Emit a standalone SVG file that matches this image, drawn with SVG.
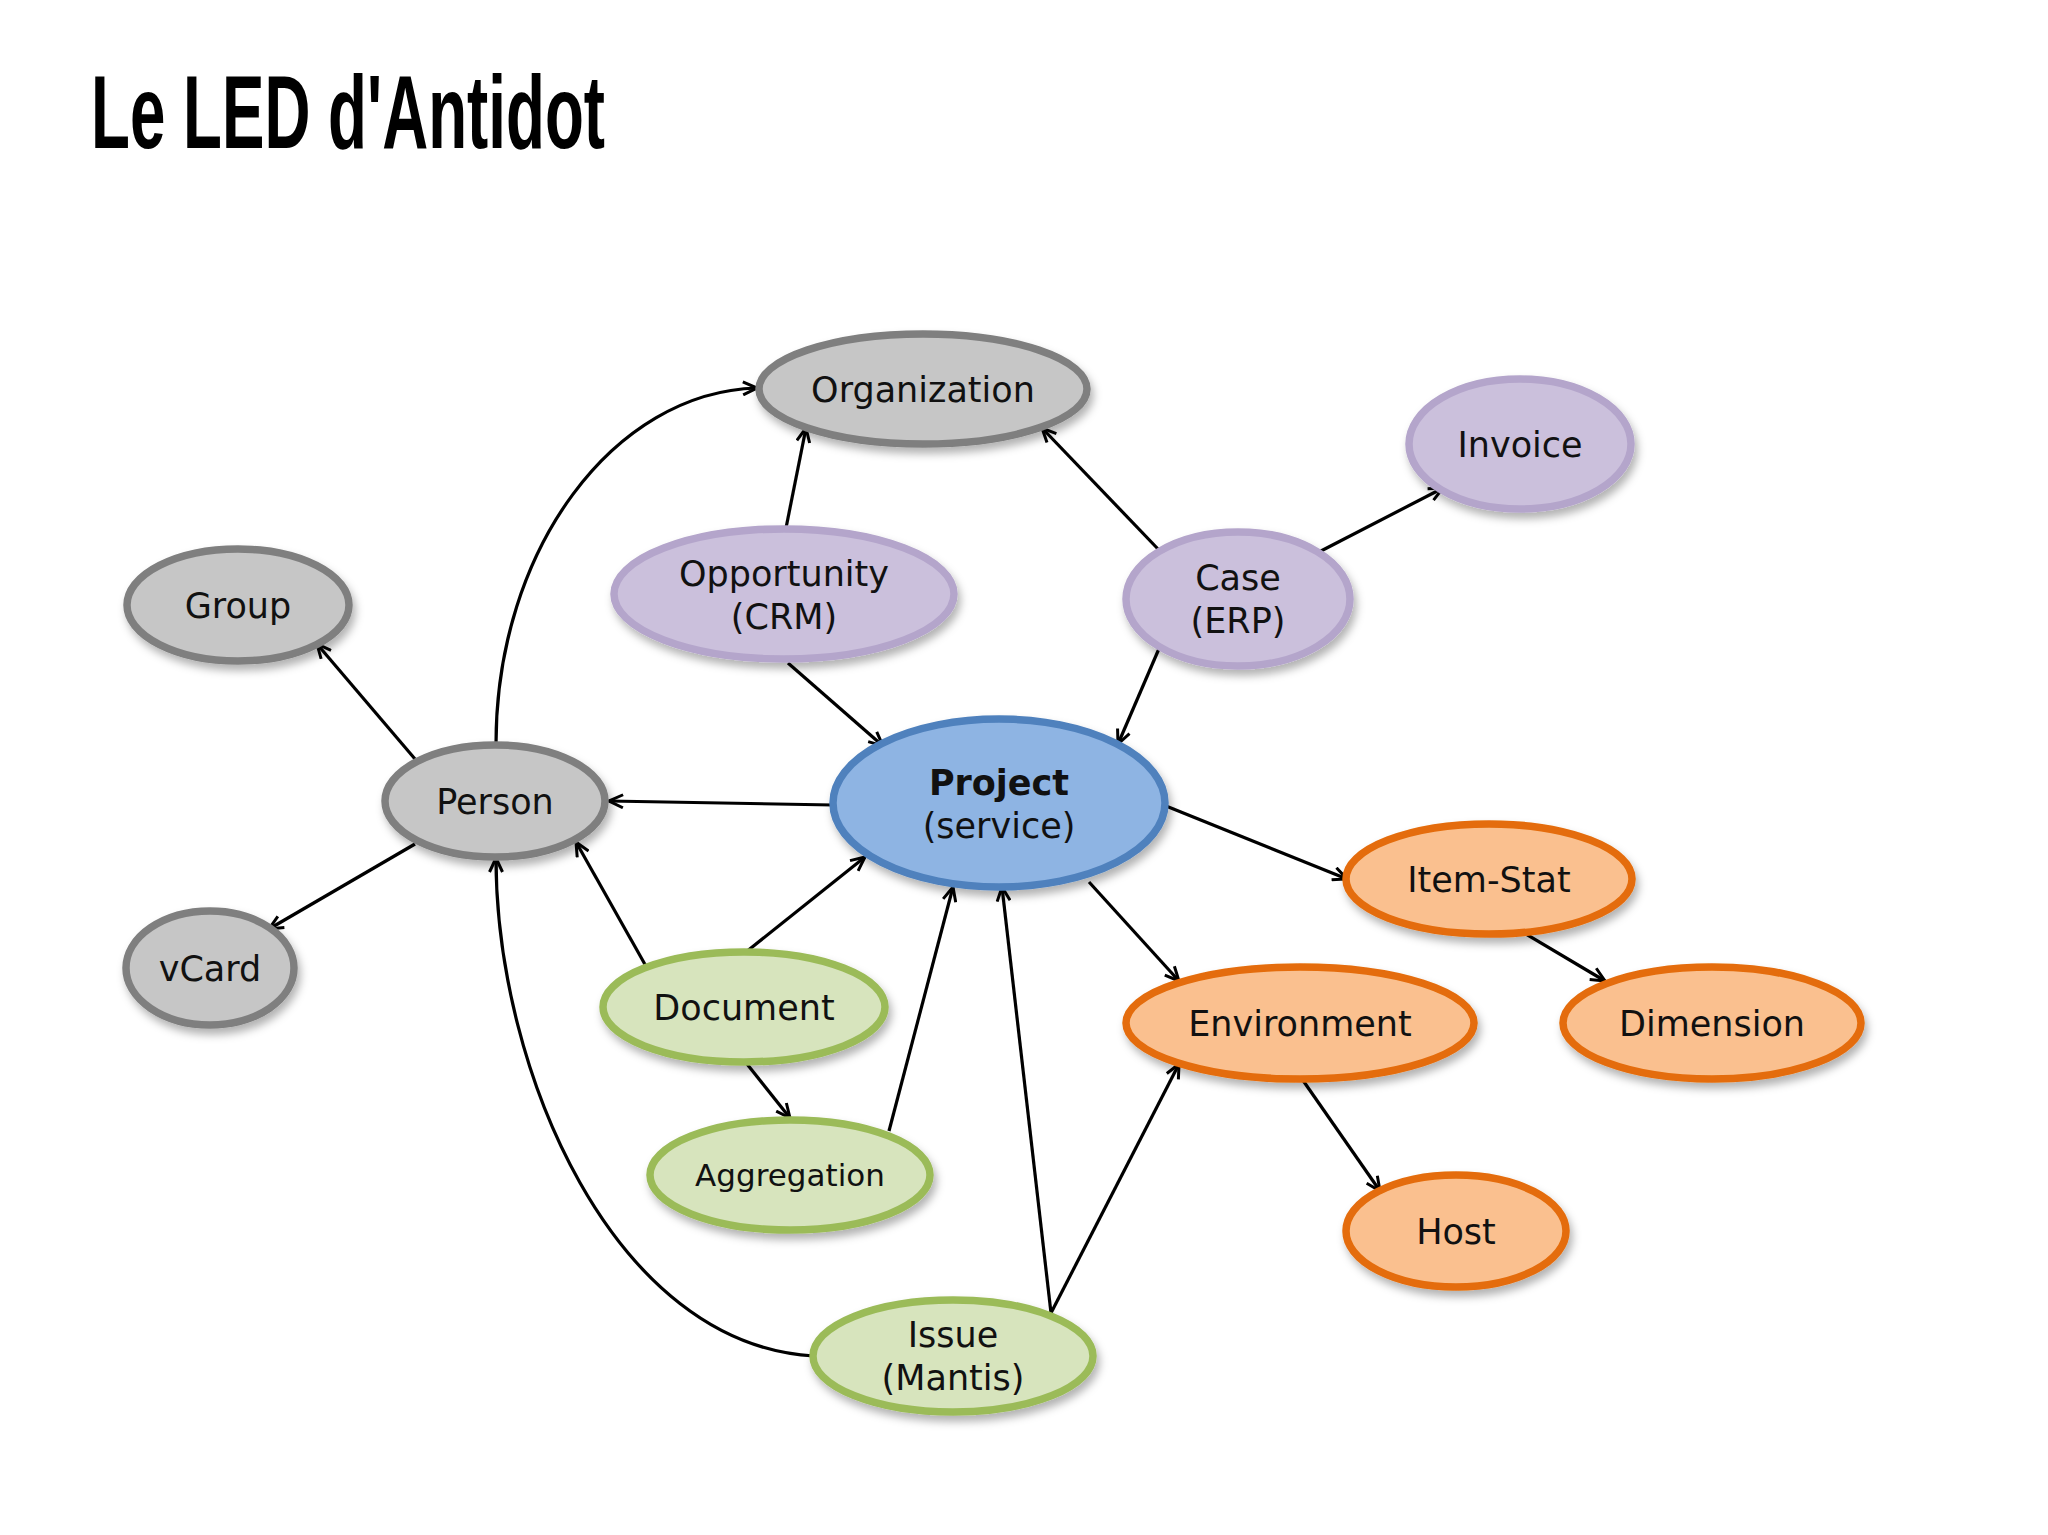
<svg xmlns="http://www.w3.org/2000/svg" width="2048" height="1535" viewBox="0 0 2048 1535">
<defs>
<filter id="sh" x="-20%" y="-20%" width="140%" height="150%">
<feDropShadow dx="3" dy="6" stdDeviation="4" flood-color="#000" flood-opacity="0.3"/>
</filter>
<marker id="arr" viewBox="0 0 16 16" refX="15" refY="8" markerWidth="16" markerHeight="16" markerUnits="userSpaceOnUse" orient="auto">
<path d="M1,1.5 L15,8 L1,14.5" fill="none" stroke="#000" stroke-width="3"/>
</marker>
</defs>
<style>
.t{font-family:"DejaVu Sans","Verdana",sans-serif;font-size:35px;fill:#111;text-anchor:middle}
.t.small{font-size:31px}
.gray{fill:#c6c6c6;stroke:#7f7f7f;stroke-width:7.5}
.purple{fill:#cbc0dc;stroke:#b4a5cb;stroke-width:7.5}
.blue{fill:#8eb4e3;stroke:#4f81bd;stroke-width:7.5}
.orange{fill:#fac08f;stroke:#e46c0a;stroke-width:7.5}
.green{fill:#d7e4bd;stroke:#9bbb59;stroke-width:7.5}
.c{fill:none;stroke:#000;stroke-width:3.2;marker-end:url(#arr)}
</style>
<rect width="2048" height="1535" fill="#fff"/>
<text x="91" y="148" font-family="Liberation Sans, Arial, sans-serif" font-weight="bold" font-size="103" textLength="514" lengthAdjust="spacingAndGlyphs" fill="#000">Le LED d'Antidot</text>

<g id="connectors">
<path class="c" d="M496 744 C496 549 614 392 757 388"/>
<path class="c" d="M786 528 L806 428"/>
<path class="c" d="M1158 549 L1042 428"/>
<path class="c" d="M1319 552 L1443 488"/>
<path class="c" d="M788 663 L883 746"/>
<path class="c" d="M1161 644 L1118 744"/>
<path class="c" d="M415 759 L317 644"/>
<path class="c" d="M833 805 L609 801"/>
<path class="c" d="M415 844 L269 929"/>
<path class="c" d="M1166 806 L1347 879"/>
<path class="c" d="M1519 930 L1605 981"/>
<path class="c" d="M1089 882 L1179 981"/>
<path class="c" d="M1302 1079 L1380 1191"/>
<path class="c" d="M746 952 L865 857"/>
<path class="c" d="M647 968 L576 842"/>
<path class="c" d="M747 1064 L790 1118"/>
<path class="c" d="M889 1131 L953 887"/>
<path class="c" d="M1051 1313 L1002 887"/>
<path class="c" d="M1051 1313 L1179 1064"/>
<path class="c" d="M814 1356 C614 1345 496 1071 496 858"/>
</g>

<g id="organization"><ellipse class="gray" cx="923" cy="389" rx="164" ry="55" filter="url(#sh)"/><text class="t" x="923" y="402">Organization</text></g>
<g id="invoice"><ellipse class="purple" cx="1520" cy="444" rx="111" ry="65" filter="url(#sh)"/><text class="t" x="1520" y="457">Invoice</text></g>
<g id="group"><ellipse class="gray" cx="238" cy="605" rx="111" ry="56" filter="url(#sh)"/><text class="t" x="238" y="618">Group</text></g>
<g id="opportunity"><ellipse class="purple" cx="784" cy="594" rx="170" ry="65" filter="url(#sh)"/><text class="t" x="784" y="586">Opportunity</text><text class="t" x="784" y="629">(CRM)</text></g>
<g id="case"><ellipse class="purple" cx="1238" cy="599" rx="112" ry="67" filter="url(#sh)"/><text class="t" x="1238" y="590">Case</text><text class="t" x="1238" y="633">(ERP)</text></g>
<g id="person"><ellipse class="gray" cx="495" cy="801" rx="110" ry="56" filter="url(#sh)"/><text class="t" x="495" y="814">Person</text></g>
<g id="project"><ellipse class="blue" cx="999" cy="803" rx="166" ry="84" filter="url(#sh)"/><text class="t" x="999" y="795" font-weight="bold">Project</text><text class="t" x="999" y="838">(service)</text></g>
<g id="vcard"><ellipse class="gray" cx="210" cy="968" rx="84" ry="57" filter="url(#sh)"/><text class="t" x="210" y="981">vCard</text></g>
<g id="item-stat"><ellipse class="orange" cx="1489" cy="879" rx="143" ry="55" filter="url(#sh)"/><text class="t" x="1489" y="892">Item-Stat</text></g>
<g id="document"><ellipse class="green" cx="744" cy="1007" rx="141" ry="55" filter="url(#sh)"/><text class="t" x="744" y="1020">Document</text></g>
<g id="environment"><ellipse class="orange" cx="1300" cy="1023" rx="174" ry="56" filter="url(#sh)"/><text class="t" x="1300" y="1036">Environment</text></g>
<g id="dimension"><ellipse class="orange" cx="1712" cy="1023" rx="149" ry="56" filter="url(#sh)"/><text class="t" x="1712" y="1036">Dimension</text></g>
<g id="aggregation"><ellipse class="green" cx="790" cy="1175" rx="140" ry="55" filter="url(#sh)"/><text class="t small" x="790" y="1186">Aggregation</text></g>
<g id="host"><ellipse class="orange" cx="1456" cy="1231" rx="110" ry="56" filter="url(#sh)"/><text class="t" x="1456" y="1244">Host</text></g>
<g id="issue"><ellipse class="green" cx="953" cy="1356" rx="140" ry="56" filter="url(#sh)"/><text class="t" x="953" y="1347">Issue</text><text class="t" x="953" y="1390">(Mantis)</text></g>
</svg>
